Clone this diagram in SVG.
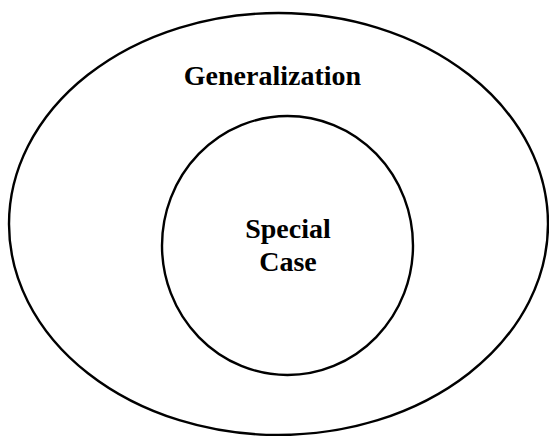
<svg xmlns="http://www.w3.org/2000/svg" width="549" height="436" viewBox="0 0 549 436">
  <style>
    .ring { fill: none; stroke: #000; stroke-width: 2.4; }
    .label { font-family: "Liberation Serif", "Times New Roman", serif; font-weight: bold; font-size: 28px; fill: #000; text-anchor: middle; }
  </style>
  <rect width="549" height="436" fill="#fff"/>
  <g id="generalization">
    <ellipse class="ring" cx="278.5" cy="224" rx="269.5" ry="211"/>
    <text class="label" x="272.5" y="85">Generalization</text>
  </g>
  <g id="special-case">
    <ellipse class="ring" cx="287.5" cy="245.5" rx="125.5" ry="129.5"/>
    <text class="label" x="288" y="238">Special</text>
    <text class="label" x="288" y="271">Case</text>
  </g>
  <g id="connectors"/>
</svg>
